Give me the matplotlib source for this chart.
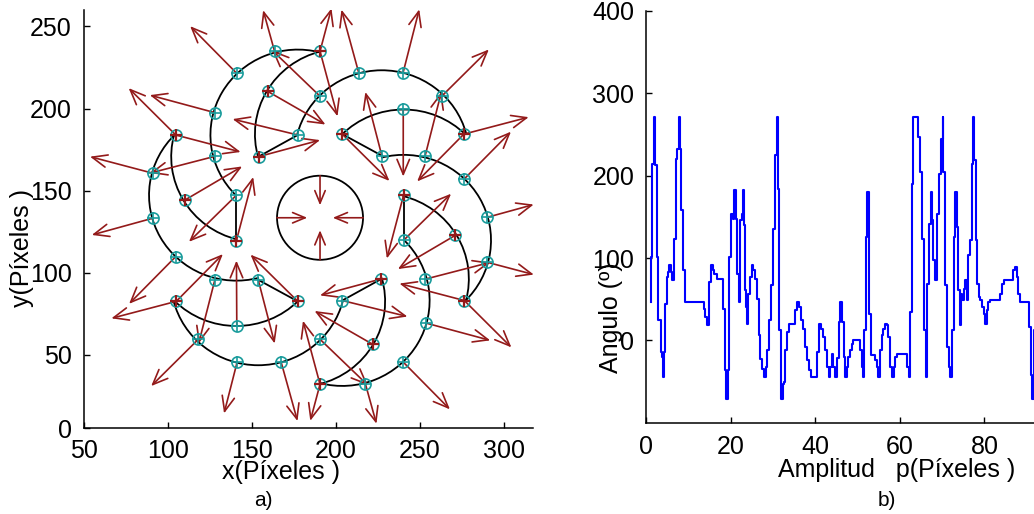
import numpy as np
import matplotlib
matplotlib.use('Agg')
import matplotlib.pyplot as plt
from matplotlib.patches import Arc, FancyArrowPatch

plt.rcParams['font.family'] = ['Liberation Sans', 'DejaVu Sans']

# ---------------- left panel data (pixel coordinates) ----------------
# edge points, numbered 1..48
pt_x = [163.65, 141.15, 127.9, 159.45, 177.45, 104.8, 128.1, 154.1, 91.4, 110.05,
        140.9, 91.4, 190.7, 213.8, 240.1, 263.15, 190.7, 240.25, 203.95, 276.3,
        227.5, 253.3, 276.6, 240.5, 290.0, 104.8, 140.9, 128.1, 153.9, 105.1,
        177.45, 141.15, 118.25, 141.3, 167.6, 240.5, 271.35, 290.0, 253.3, 227.3,
        276.6, 203.95, 253.5, 190.7, 221.95, 240.25, 190.7, 217.75]
pt_y = [234.8, 221.4, 197.55, 210.5, 183.9, 183.9, 170.9, 170.7, 160.55, 144.15,
        147.2, 133.3, 234.9, 221.6, 221.6, 207.5, 207.5, 199.6, 184.4, 184.4,
        171.3, 171.3, 157.15, 147.4, 133.7, 109.85, 119.6, 95.7, 95.7, 82.6,
        82.6, 67.4, 59.5, 45.4, 45.4, 119.8, 122.85, 106.45, 96.1, 96.3,
        83.1, 83.1, 69.45, 59.5, 56.5, 45.6, 32.1, 32.2]
pt_red = [4, 6, 8, 10, 13, 19, 20, 24, 27, 30, 31, 37, 40, 41, 45, 47]

# circular arcs: centre point number, start / end angle (deg)
arc_center = [5, 19, 21, 24, 36, 40, 42, 31, 29, 27, 11, 8]
arc_t1 = [75, 104, 15, 45, -46, -15, -105, -76, 194, 225, 134, 165]
arc_t2 = [225, 196, 166, 135, 105, 76, 45, 16, 346, 315, 285, 256]
arc_radius = 52.0

# straight connecting segments
seg_a = [8, 40, 11, 24, 19, 31]
seg_b = [5, 42, 27, 36, 21, 29]

# gradient arrows: start point, direction (deg), length
arrow_from = [13, 1, 2, 3, 7, 11, 13, 4, 8,
              20, 16, 15, 14, 17, 5, 20, 18, 19,
              41, 38, 25, 23, 22, 21, 41, 37, 24,
              36, 39, 43, 46, 48, 47, 47, 45, 40,
              42, 44, 35, 34, 33, 30, 30, 32, 31,
              29, 28, 26, 12, 9, 6, 6, 10, 27]
arrow_ang = [75.4, 105.2, 134, 164.6, 194.8, 225.1, 284.7, 329.6, 15.4,
             15, 45.4, 76, 105, 135.5, 166, 226, 270, 314.6,
             -45.5, -15.1, 15.7, 46, 76, 104.2, 165, 211, 255.5,
             45.1, 14.8, -15.4, -46, -74.8, -104.6, 104.7, 149.6, 195.4,
             -14.1, -44.5, -74.8, -104, -134.6, -165, 46, 90.3, 134.7,
             -75.8, -104, -134, -164.3, 164.9, 134.5, -15, 31, 75.5]
arrow_len = [27, 26, 40, 40, 40, 40, 41, 40, 38,
             40, 40, 40, 40, 40, 40, 40, 41, 40,
             40, 29, 29, 40, 40, 40, 40, 40, 40,
             40, 40, 40, 40, 25, 23, 40, 40, 38,
             40, 40, 37, 32, 40, 40, 40, 40, 40,
             40, 40, 40, 38, 39, 40, 40, 40, 40]

# central circle
cen_x, cen_y, cen_r = 190.7, 133.5, 25.6
cen_arrow_pos = [0, 90, 180, 270]
cen_arrow_len = 18

x_ticks_l = [50, 100, 150, 200, 250, 300]
y_ticks_l = [50, 100, 150, 200, 250]

# ---------------- right panel data ----------------
amp_p = [1.1, 1.15, 1.42, 1.89, 2.21, 2.68, 2.92, 3.47, 3.70, 3.94, 4.26, 4.41, 4.89,
         5.20, 5.52, 5.83, 6.15, 6.62, 7.09, 7.41, 7.72, 8.04, 8.20, 8.67, 9.14,
         13.71, 14.03, 14.34, 14.97, 15.29, 15.76, 16.08, 16.71, 18.28, 18.68, 18.91,
         19.46, 19.70, 20.17, 20.49, 20.88, 21.28, 21.59, 21.91, 22.22, 22.62, 22.85,
         23.17, 23.48, 23.64,
         23.96, 24.19, 24.59, 24.98, 25.37, 25.77, 26.16, 26.64, 26.95, 27.42, 27.90,
         28.37, 28.68, 29.00, 29.47, 29.94, 30.42, 30.89, 31.28, 31.52, 31.99, 32.31,
         32.62, 32.94, 33.25,
         33.73, 35.15, 35.62, 36.09, 36.56, 37.04, 37.51, 37.98, 38.46, 38.93, 40.50,
         40.98, 41.45, 41.92, 42.40, 42.71, 43.18, 43.50, 43.97, 44.30, 44.60, 45.07,
         45.50, 45.90, 46.30,
         46.70, 47.00, 47.40, 47.80, 48.20, 48.60, 49.00, 50.60, 51.00, 51.40, 51.60,
         51.90, 52.20, 52.60, 52.80, 53.20, 54.10, 54.50, 54.90, 55.30, 55.70, 56.10,
         56.50, 56.90, 57.30,
         57.70, 58.10, 58.50, 58.90, 59.30, 61.80, 62.20, 62.40, 62.80, 63.20, 64.40,
         64.80, 65.20, 65.60, 66.10, 66.50, 66.90, 67.30, 67.50, 67.90, 68.30, 68.70,
         69.30, 69.70, 70.10,
         70.30, 70.70, 71.10, 71.50, 71.90, 72.30, 72.70, 73.10, 73.40, 73.70, 74.10,
         74.40, 74.80, 75.20, 75.40, 75.80, 76.20, 76.60, 77.00, 77.40, 77.60, 77.90,
         78.20, 78.60, 79.00,
         79.40, 79.80, 80.10, 80.50, 80.90, 81.30, 83.70, 84.10, 84.50, 86.80, 87.20,
         87.60, 88.00, 88.40, 90.60, 90.90, 91.20, 91.60, 92.00]
ang_deg = [46.6, 101, 214.7, 271, 212.6, 101, 24.3, -14.2, -20.3, -44.6, -14.2, 44.6, 77,
           83, 91, 83, 73, 123.5, 220.7, 232.9, 271, 232.9, 158, 85, 46.6,
           38.5, 28.4, 18.2, 70.9, 91, 85, 81, 74.5, 38.5, -36.5, -70.9,
           -36.5, 101, 154, 147.8, 182.3, 147.8, 81, 46.6, 145.8, 154, 182.3,
           139.7, 60.8, 40.5,
           20.3, 56.7, 77, 91, 85, 74.9, 50.6, 6.1, -22.3, -34.4, -44.6,
           -32.4, -12.2, 24.3, 66.8, 135.7, 224.8, 271, 184.3, 12.2, -70.9, -52.7,
           -50.6, -12.2, 10.1,
           20.3, 36.5, 46.6, 40.5, 24.3, 14.2, -8.1, -24.3, -36.5, -44.6, -14.2,
           20.3, 14.2, 4, -12.2, -32.4, -44.6, -32.4, -16.2, -32.4, -44.6, -22,
           22.3, 46.6, 22.3,
           -20.3, -44.6, -32.4, -20.3, -12.2, -4, 0, -12.2, -32.4, -44.6, 12.2,
           125.6, 180.2, 129.6, 32.4, -18.2, -24.3, -32.4, -44.6, -12.2, 6.1, 14.2,
           20.3, 18.2, 4,
           -32.4, -44.6, -32.4, -20.3, -16.2, -32.4, -44.6, 34.4, 190.4, 271.4, 247.1,
           204.5, 123.5, 12.2, -44.6, 68.9, 141.8, 180.2, 145.8, 97.2, 72.9, 153.9,
           202.5, 245, 271.4,
           204.5, 66.8, -8.1, -32.4, -44.6, 12.2, 125.6, 180.2, 137.7, 60.8, 18.2,
           56.7, 48.6, 62.8, 72.9, 48.6, 103.3, 121.5, 214.7, 271.4, 218.7, 121.5,
           68.9, 52.7, 48.6,
           40.5, 32.4, 20.3, 36.5, 46.6, 48.6, 56.7, 68.9, 72.9, 85.1, 89.1,
           77, 56.7, 46.6, 16.2, -42.5, -70.9, 12.2, 12.2]
x_ticks_r = [0, 20, 40, 60, 80]
y_ticks_r = [0, 100, 200, 300, 400]

# ---------------- styles ----------------
TEAL = '#1a9c9c'
DRED = '#931a1a'
FS = 18

W, H = 1034, 514
fig = plt.figure(figsize=(W / 100, H / 100), dpi=100)

ax1 = fig.add_axes([83.7 / W, (H - 428.3) / H, 449.3 / W, (428.3 - 10) / H])
ax2 = fig.add_axes([646 / W, (H - 422.7) / H, 388 / W, (422.7 - 11) / H])

for ax in (ax1, ax2):
    ax.spines['top'].set_visible(False)
    ax.spines['right'].set_visible(False)
    for s in ('left', 'bottom'):
        ax.spines[s].set_linewidth(1.1)
    ax.tick_params(direction='in', length=4, width=1.0, labelsize=FS, pad=8.5)
ax1.tick_params(axis='x', pad=7.5)

# ----- left panel -----
ax1.set_xlim(50, 317.5)
ax1.set_ylim(5.3, 260)

for c, t1, t2 in zip(arc_center, arc_t1, arc_t2):
    ax1.add_patch(Arc((pt_x[c - 1], pt_y[c - 1]), 2 * arc_radius, 2 * arc_radius,
                      theta1=t1, theta2=t2, color='black', lw=1.3, zorder=2))
for a, b in zip(seg_a, seg_b):
    ax1.plot([pt_x[a - 1], pt_x[b - 1]], [pt_y[a - 1], pt_y[b - 1]],
             color='black', lw=1.3, zorder=2)

ax1.add_patch(Arc((cen_x, cen_y), 2 * cen_r, 2 * cen_r, color='black', lw=1.3, zorder=2))

astyle = '->,head_length=0.6,head_width=0.25'
for n, a, L in zip(arrow_from, arrow_ang, arrow_len):
    x0, y0 = pt_x[n - 1], pt_y[n - 1]
    t = np.deg2rad(a)
    ax1.add_patch(FancyArrowPatch((x0, y0), (x0 + L * np.cos(t), y0 + L * np.sin(t)),
                                  arrowstyle=astyle, mutation_scale=18, color=DRED,
                                  lw=1.2, shrinkA=0, shrinkB=0, zorder=3))
for a in cen_arrow_pos:
    t = np.deg2rad(a)
    x0, y0 = cen_x + cen_r * np.cos(t), cen_y + cen_r * np.sin(t)
    ax1.add_patch(FancyArrowPatch((x0, y0), (x0 - cen_arrow_len * np.cos(t),
                                             y0 - cen_arrow_len * np.sin(t)),
                                  arrowstyle=astyle, mutation_scale=15, color=DRED,
                                  lw=1.2, shrinkA=0, shrinkB=0, zorder=3))

ax1.plot(pt_x, pt_y, 'o', mfc='none', mec=TEAL, ms=8, mew=1.2, zorder=4)
teal_idx = [i for i in range(len(pt_x)) if (i + 1) not in pt_red]
red_idx = [i - 1 for i in pt_red]
ax1.plot([pt_x[i] for i in teal_idx], [pt_y[i] for i in teal_idx], '+',
         color=TEAL, ms=8, mew=1.2, zorder=5)
ax1.plot([pt_x[i] for i in red_idx], [pt_y[i] for i in red_idx], '+',
         color=DRED, ms=9, mew=1.6, zorder=5)

ax1.set_xticks(x_ticks_l)
ax1.set_yticks([ax1.get_ylim()[0]] + y_ticks_l)
ax1.set_yticklabels(['0'] + [str(v) for v in y_ticks_l])

# ----- right panel -----
ax2.plot(amp_p, ang_deg, drawstyle='steps-post', color='#0000ff', lw=1.5)
ax2.set_xlim(0, 91.7)
ax2.set_ylim(-100, 400)
ax2.set_xticks(x_ticks_r)
ax2.set_yticks(y_ticks_r)

# ----- labels -----
fig.text(22 / W, 1 - 248 / H, 'y(Píxeles )', rotation=90, ha='center', va='center', fontsize=FS)
fig.text(281 / W, 1 - 472 / H, 'x(Píxeles )', ha='center', va='center', fontsize=FS)
fig.text(263 / W, 1 - 501 / H, 'a)', ha='center', va='center', fontsize=15)
fig.text(611 / W, 1 - 318 / H, 'Angulo (º)', rotation=90, ha='center', va='center', fontsize=FS)
fig.text(897 / W, 1 - 470 / H, 'Amplitud   p(Píxeles )', ha='center', va='center', fontsize=FS)
fig.text(887 / W, 1 - 501 / H, 'b)', ha='center', va='center', fontsize=15)

fig.savefig('out.png', dpi=100)
